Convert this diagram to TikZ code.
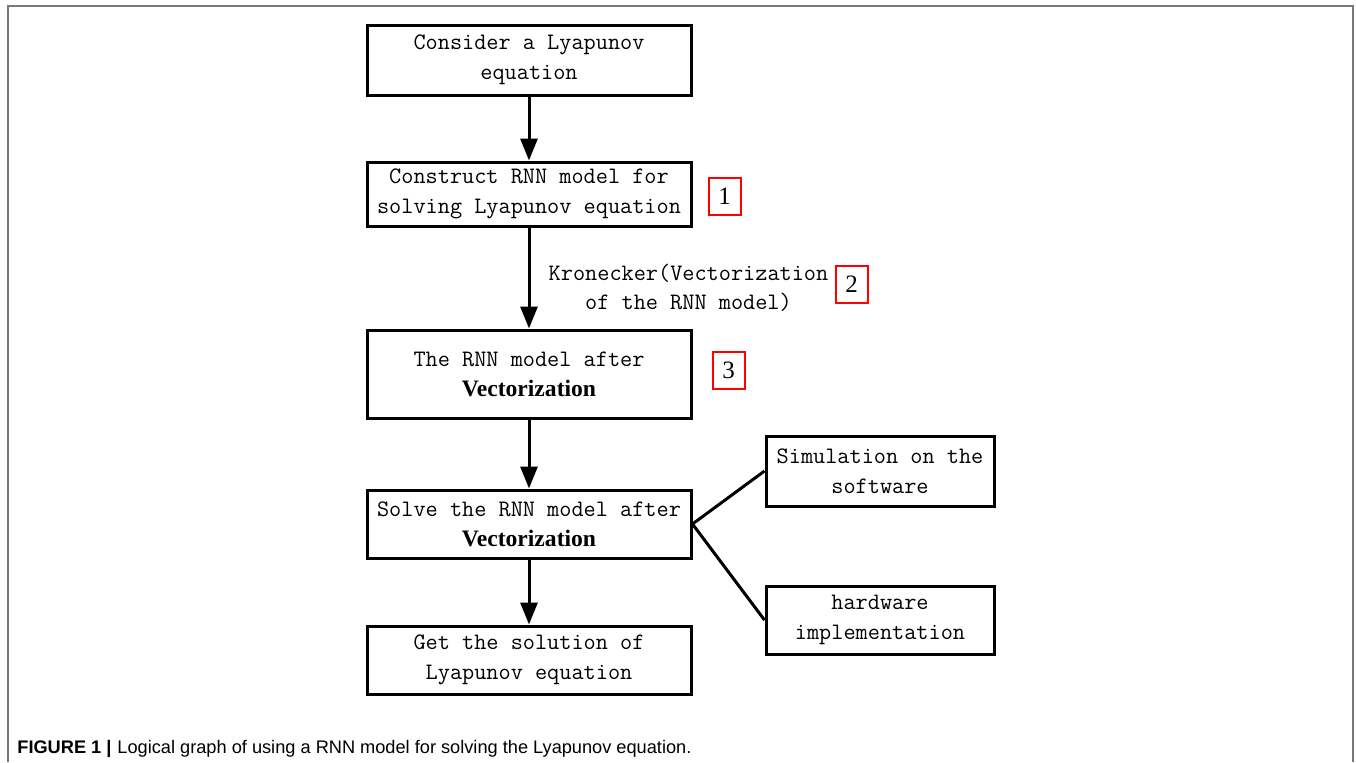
\documentclass[tikz,border=0pt]{standalone}
\usepackage{fontspec}
\usepackage{tikz}
\usetikzlibrary{arrows.meta}
\newfontfamily\timesfont{Liberation Serif}
\newfontfamily\capfont{Liberation Sans}
\definecolor{framegray}{RGB}{120,120,120}
\tikzset{
    % boxes of the flow
    flowbox/.style={
        draw=black,
        line width=1.5pt,
        minimum width=162pt,
        inner sep=0pt,
        align=center,
        font=\ttfamily\fontsize{11.8}{15}\selectfont
    },
    % red numbered tags
    tagbox/.style={
        draw=red,
        line width=1pt,
        minimum width=16pt,
        minimum height=18.5pt,
        inner sep=0pt,
        font=\timesfont\fontsize{12.5}{14}\selectfont
    },
    flowarrow/.style={
        line width=1.5pt,
        black,
        -{Triangle[length=11pt, width=8.5pt]}
    },
    branchline/.style={
        line width=1.5pt,
        black
    }
}
\newcommand{\vecword}{{\timesfont\bfseries Vectorization}}

\begin{document}
\begin{tikzpicture}[x=0.5pt,y=-0.5pt]
   \useasboundingbox (0,0) rectangle (1356,762);
   \path
    (529,60)  coordinate (c1)
    (529,194) coordinate (c2)
    (529,374) coordinate (c3)
    (529,524) coordinate (c4)
    (529,660) coordinate (c5)
    (880,471) coordinate (c6)
    (880,620) coordinate (c7);

   % outer frame, open at the bottom
   \draw[framegray, line width=1pt] (8,762) -- (8,6) -- (1353,6) -- (1353,762);

   % main boxes
   \node[flowbox, minimum height=35pt] (consider) at (c1) {Consider a Lyapunov\\equation};
   \node[flowbox, minimum height=32pt] (construct) at (c2) {Construct RNN model for\\solving Lyapunov equation};
   \node[flowbox, minimum height=44pt] (after) at (c3) {The RNN model after\\\vecword};
   \node[flowbox, minimum height=34pt] (solve) at (c4) {Solve the RNN model after\\\vecword};
   \node[flowbox, minimum height=34pt] (result) at (c5) {Get the solution of\\Lyapunov equation};
   \node[flowbox, minimum width=114pt, minimum height=35pt] (simul) at (c6) {Simulation on the\\software};
   \node[flowbox, minimum width=114pt, minimum height=34pt] (hardw) at (c7) {hardware\\implementation};

   % red tags
   \node[tagbox] (tag1) at (724.5,196) {1};
   \node[tagbox] (tag2) at (851.5,284) {2};
   \node[tagbox] (tag3) at (728.5,370) {3};

   % arrows
   \draw[flowarrow] (consider) -- (construct);
   \draw[flowarrow] (construct) -- (after);
   \draw[flowarrow] (after) -- (solve);
   \draw[flowarrow] (solve) -- (result);
   \draw[branchline] (solve.east) -- (simul.west);
   \draw[branchline] (solve.east) -- (hardw.west);

   % label of the second arrow
   \node[align=center, font=\ttfamily\fontsize{11.8}{14.5}\selectfont] (kron) at (688.5,288) {Kronecker(Vectorization\\of the RNN model)};

   % caption
   \node[anchor=base west, inner sep=0pt, font=\capfont\fontsize{9.1}{11}\selectfont] (caption) at (17,753)
     {\textbf{FIGURE 1 |}\hspace{3pt}Logical graph of using a RNN model for solving the Lyapunov equation.};
\end{tikzpicture}
\end{document}
